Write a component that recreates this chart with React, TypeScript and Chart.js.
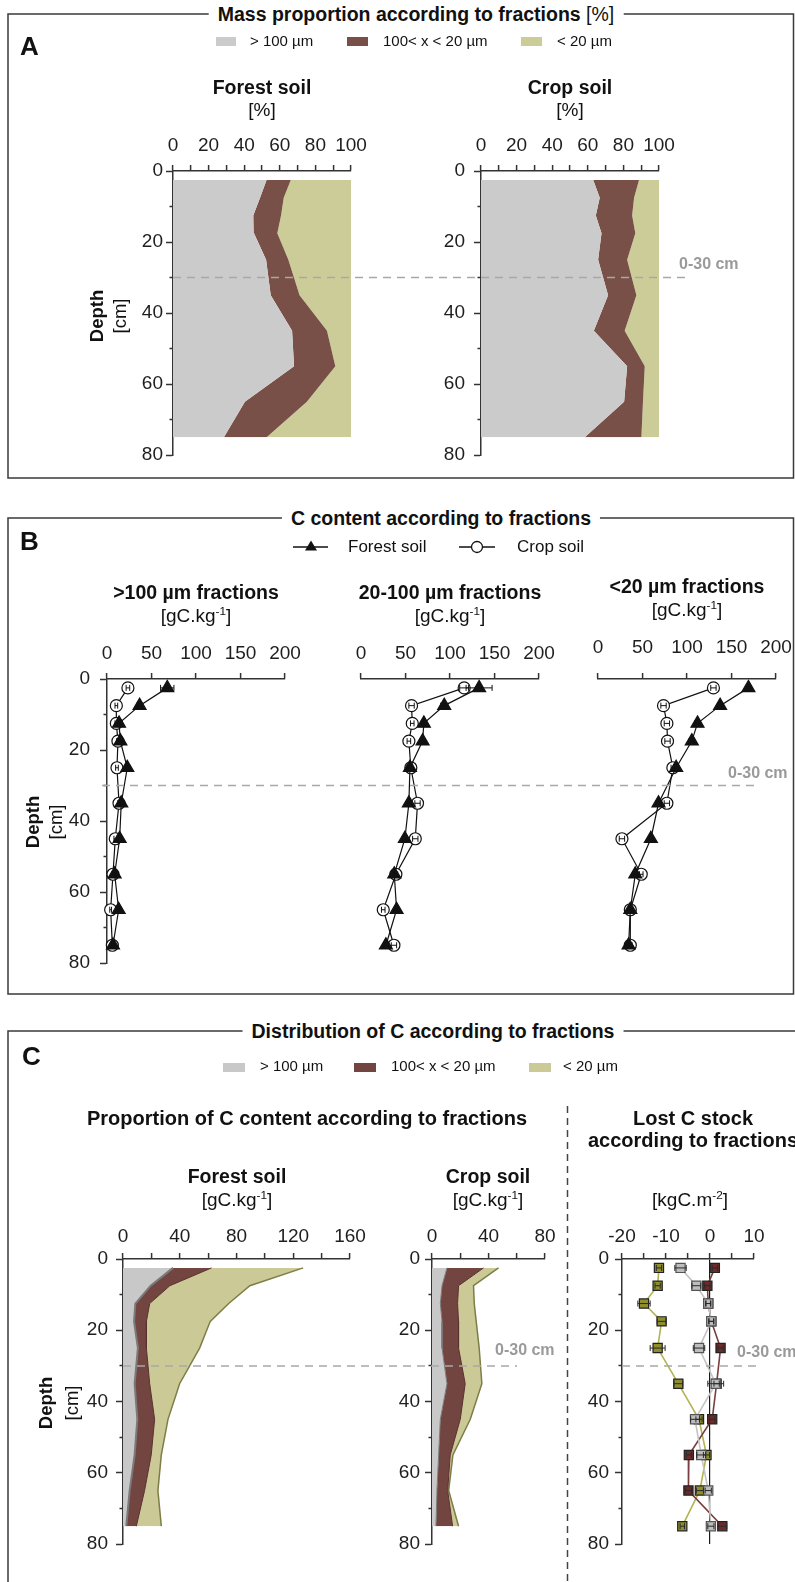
import React, { useEffect, useRef } from 'react';
import { Chart, registerables } from 'chart.js';

Chart.register(...registerables);

const FONT = "'Liberation Sans', Arial, Helvetica, sans-serif";

// ---------------- shared ----------------
const depths = [2.5, 7.5, 12.5, 17.5, 25, 35, 45, 55, 65, 75];
const depthMax = 80;
const refDepth = 30;
const refLabel = '0-30 cm';
const fractionLabels = ['> 100 µm', '100< x < 20 µm', '< 20 µm'];

// ---------------- A : mass proportion [%] ----------------
const massForestCoarse = [52.6, 48.9, 45.1, 45.5, 52.3, 54.9, 66.9, 68.0, 40.4, 28.6];
const massForestMid = [13.6, 13.3, 15.6, 13.1, 12.5, 16.2, 19.6, 23.2, 34.8, 24.0];
const massForestFine = [33.8, 37.8, 39.3, 41.4, 35.2, 28.9, 13.5, 8.8, 24.8, 47.4];
const massCropCoarse = [63.0, 66.7, 64.5, 67.7, 65.8, 71.4, 63.4, 82.1, 80.4, 58.3];
const massCropMid = [25.8, 19.3, 20.4, 19.0, 16.3, 15.9, 17.3, 9.9, 10.6, 31.8];
const massCropFine = [11.2, 14.0, 15.1, 13.3, 17.9, 12.7, 19.3, 8.0, 9.0, 9.9];

// ---------------- B : C content [gC.kg-1] ----------------
const cCoarseForest = [67.7, 36.6, 13.5, 15.0, 22.8, 16.0, 14.2, 8.6, 13.1, 6.7];
const cCoarseForestErr = [7.5, 3, 1.5, 1.5, 2, 1.5, 1.5, 1, 1, 1];
const cCoarseCrop = [23.5, 10.5, 10.5, 12.3, 11.2, 13.5, 9.3, 6.7, 4.1, 6.0];
const cCoarseCropErr = [2, 1.5, 1.5, 1.5, 1.5, 1.5, 1.5, 1, 1, 1];
const cMidForest = [132.7, 93.5, 70.6, 69.2, 55.0, 53.8, 49.3, 37.4, 40.0, 28.0];
const cMidForestErr = [14.6, 4, 3, 3, 3, 2, 2, 2, 2, 2];
const cMidCrop = [115.9, 56.8, 57.6, 53.8, 56.0, 63.5, 61.0, 39.2, 25.0, 37.0];
const cMidCropErr = [5, 3, 2, 2, 2, 3, 3, 2, 2, 3];
const cFineForest = [169.0, 137.2, 111.8, 105.4, 87.8, 68.0, 59.4, 41.9, 36.3, 34.4];
const cFineForestErr = [3, 3, 3, 3, 3, 3, 2, 2, 2, 2];
const cFineCrop = [129.7, 73.6, 77.4, 78.1, 84.1, 77.4, 26.9, 48.6, 36.3, 36.3];
const cFineCropErr = [3, 3, 3, 3, 2, 3, 3, 2, 2, 2];

// ---------------- C : distribution of C ----------------
const distForestCoarse = [35.3, 19.5, 8.7, 7.8, 10.5, 8.2, 10.1, 8.2, 4.7, 2.3];
const distForestMid = [27.1, 13.5, 10.1, 8.7, 6.0, 10.6, 12.2, 11.7, 10.5, 7.1];
const distForestFine = [64.6, 56.4, 55.7, 45.0, 37.5, 21.1, 9.4, 7.1, 9.4, 17.6];
const distCropCoarse = [10.6, 7.1, 5.9, 7.1, 7.1, 10.6, 5.9, 4.7, 3.5, 2.8];
const distCropMid = [25.9, 11.7, 12.2, 11.7, 11.7, 12.9, 14.1, 8.2, 7.6, 11.8];
const distCropFine = [10.6, 10.6, 11.8, 12.5, 14.6, 11.8, 7.1, 1.9, 0.7, 4.2];

// Lost C stock [kgC.m-2]
const lostCoarse = [-6.7, -3.1, -0.4, 0.3, -2.5, 1.3, -3.4, -2.0, -0.4, 0.2];
const lostCoarseErr = [1.3, 1.0, 0.6, 0.6, 1.3, 1.8, 1.0, 1.0, 0.7, 0.7];
const lostMid = [1.1, -0.6, -0.4, 0.3, 2.4, 1.5, 0.5, -4.8, -4.9, 2.8];
const lostMidErr = [0.6, 0.6, 0.5, 0.5, 0.6, 0.6, 0.6, 0.6, 0.7, 1.0];
const lostFine = [-11.6, -11.9, -15.0, -11.0, -11.9, -7.2, -2.5, -0.8, -2.3, -6.3];
const lostFineErr = [0.6, 0.6, 1.4, 1.0, 1.7, 1.0, 0.7, 0.7, 0.8, 0.5];

// ---------------- colours ----------------
const colA = ['#cbcbcb', '#785047', '#cccc99'];
const colC = ['#c8c8c8', '#734541', '#cbca97'];
const edgeC = ['#7a7a7a', '#5a2f2f', '#7d7d46'];
const lostLine = ['#c4c4c4', '#7b3e3e', '#b3b352'];
const lostFill = ['#bdbdbd', '#6a2b2b', '#8e8e2c'];

// ---------------- layout constants ----------------
const WY = 60;
const HX = 60;
const PL = 40;
const PR = 40;
const PB = 30;

type AxisSpec = {
  xMin: number; xMax: number; xStep: number; xLabelStep: number;
  showY: boolean; yPad: number; xPad: number; zeroLine?: boolean; stacked?: boolean;
};

function depthOptions(a: AxisSpec): any {
  const tickFont = { family: FONT, size: 19 };
  return {
    responsive: false,
    animation: false,
    indexAxis: 'y',
    events: [],
    layout: { autoPadding: false, padding: { left: a.showY ? 0 : PL, right: PR, top: 0, bottom: PB } },
    plugins: { legend: { display: false }, tooltip: { enabled: false } },
    scales: {
      x: {
        type: 'linear', position: 'top', min: a.xMin, max: a.xMax, stacked: !!a.stacked,
        afterFit: (s: any) => { s.height = HX; },
        ticks: {
          stepSize: a.xStep, autoSkip: false, maxRotation: 0, padding: a.xPad, color: '#1e1e1e', font: tickFont,
          callback: (v: any) => (Math.abs(Math.round(Number(v))) % a.xLabelStep === 0 ? String(v) : ''),
        },
        grid: {
          drawOnChartArea: !!a.zeroLine,
          color: (c: any) => (a.zeroLine && c.tick && c.tick.value === 0 ? '#1a1a1a' : 'rgba(0,0,0,0)'),
          lineWidth: 1.2, drawTicks: true, tickLength: 6, tickColor: '#333', tickWidth: 1.5,
        },
        border: { display: true, color: '#333', width: 1.5 },
      },
      y: {
        type: 'linear', position: 'left', reverse: true, min: 0, max: depthMax, display: a.showY,
        afterFit: (s: any) => { if (a.showY) s.width = WY; },
        ticks: {
          stepSize: 10, autoSkip: false, padding: a.yPad, color: '#1e1e1e', font: tickFont,
          callback: (v: any) => (Number(v) % 20 === 0 ? String(v) : ''),
        },
        grid: {
          drawOnChartArea: false, drawTicks: true, tickLength: 7, tickColor: '#333', tickWidth: 1.5,
          tickBorderDash: (c: any) => (c.tick && c.tick.value % 20 !== 0 ? [0, 3.5, 4, 60] : []),
        },
        border: { display: true, color: '#333', width: 1.5 },
      },
    },
  };
}

function stackedAreas(parts: number[][], fills: string[], edges: string[], widths: number[]) {
  return parts.map((vals, i) => ({
    data: vals.map((v, j) => ({ x: v, y: depths[j] })),
    fill: i === 0 ? 'origin' : '-1',
    backgroundColor: fills[i],
    borderColor: edges[i],
    borderWidth: widths[i],
    pointRadius: 0,
    tension: 0,
  }));
}

function errorBars(vals: number[], errs: number[], color: string, cap: number) {
  const data: any[] = [];
  vals.forEach((v, i) => {
    data.push({ x: v - errs[i], y: depths[i] }, { x: v + errs[i], y: depths[i] }, { x: null, y: null });
  });
  return {
    data, borderColor: color, borderWidth: 1, pointStyle: 'line', rotation: 90, pointRadius: cap,
    pointBorderColor: color, pointBorderWidth: 1, pointBackgroundColor: color,
    spanGaps: false, fill: false, clip: false,
  };
}

function markerLine(vals: number[], style: string, radius: number, fillColor: string, lineColor: string, edge: string, lineWidth: number) {
  return {
    data: vals.map((v, j) => ({ x: v, y: depths[j] })),
    borderColor: lineColor, borderWidth: lineWidth, pointStyle: style, pointRadius: radius,
    pointBackgroundColor: fillColor, pointBorderColor: edge, pointBorderWidth: 1.2,
    fill: false, tension: 0, clip: false,
  };
}

type ChartProps = { plotLeft: number; plotTop: number; plotW: number; plotH: number; showY: boolean; config: () => any };

function DepthChart({ plotLeft, plotTop, plotW, plotH, showY, config }: ChartProps) {
  const ref = useRef<HTMLCanvasElement | null>(null);
  const leftPad = showY ? WY : PL;
  const w = leftPad + plotW + PR;
  const h = HX + plotH + PB;
  useEffect(() => {
    if (!ref.current) return;
    const chart = new Chart(ref.current, config());
    return () => chart.destroy();
  }, []);
  return (
    <canvas ref={ref} width={w} height={h}
      style={{ position: 'absolute', left: plotLeft - leftPad, top: plotTop - HX, width: w, height: h }} />
  );
}

function Txt({ x, y, size = 19, bold = false, color = '#111', anchor = 'middle', bg, children }: any) {
  return (
    <div style={{
      position: 'absolute', left: x, top: y,
      transform: anchor === 'middle' ? 'translate(-50%, -50%)' : 'translate(0, -50%)',
      fontFamily: FONT, fontSize: size, fontWeight: bold ? 700 : 400, color, whiteSpace: 'nowrap',
      lineHeight: 1.15, background: bg, padding: bg ? '0 9px' : 0,
    }}>{children}</div>
  );
}

function VTxt({ x, y, size = 18.5, bold = false, children }: any) {
  return (
    <div style={{
      position: 'absolute', left: x, top: y, transform: 'translate(-50%, -50%) rotate(-90deg)',
      fontFamily: FONT, fontSize: size, fontWeight: bold ? 700 : 400, color: '#111', whiteSpace: 'nowrap', lineHeight: 1.1,
    }}>{children}</div>
  );
}

const Unit = ({ base, exp }: { base: string; exp: string }) => (
  <span>[{base}<span style={{ fontSize: '0.62em', verticalAlign: '0.55em' }}>{exp}</span>]</span>
);

// plot geometry
const A_TOP = 171, A_H = 284;
const B_TOP = 679, B_H = 284;
const C_TOP = 1259, C_H = 285;
const refY = (top: number, h: number) => top + (refDepth / depthMax) * h;

export default function App() {
  const aOpts = (yPad: number) => depthOptions({ xMin: 0, xMax: 100, xStep: 10, xLabelStep: 20, showY: true, yPad, xPad: 8, stacked: true });
  const bOpts = (showY: boolean, xPad: number) => depthOptions({ xMin: 0, xMax: 200, xStep: 50, xLabelStep: 50, showY, yPad: 10, xPad });

  const dashStyle = { stroke: '#a8a8a8', strokeWidth: 1.5, strokeDasharray: '8 6' };

  return (
    <div style={{ position: 'absolute', left: 0, top: 0, width: 795, height: 1582, background: '#fff', overflow: 'hidden' }}>
      {/* ---------- A ---------- */}
      <DepthChart plotLeft={173} plotTop={A_TOP} plotW={178} plotH={A_H} showY
        config={() => ({ type: 'line', data: { datasets: stackedAreas([massForestCoarse, massForestMid, massForestFine], colA, colA, [0, 0, 0]) }, options: aOpts(3) })} />
      <DepthChart plotLeft={481} plotTop={A_TOP} plotW={178} plotH={A_H} showY
        config={() => ({ type: 'line', data: { datasets: stackedAreas([massCropCoarse, massCropMid, massCropFine], colA, colA, [0, 0, 0]) }, options: aOpts(9) })} />

      {/* ---------- B ---------- */}
      <DepthChart plotLeft={107} plotTop={B_TOP} plotW={178} plotH={B_H} showY
        config={() => ({ type: 'line', data: { datasets: [
          errorBars(cCoarseForest, cCoarseForestErr, '#111', 3),
          errorBars(cCoarseCrop, cCoarseCropErr, '#111', 3),
          markerLine(cCoarseForest, 'triangle', 7.5, '#111', '#111', '#111', 1.2),
          markerLine(cCoarseCrop, 'circle', 6, '#fff', '#111', '#111', 1.2),
        ] }, options: bOpts(true, 8) })} />
      <DepthChart plotLeft={361} plotTop={B_TOP} plotW={178} plotH={B_H} showY={false}
        config={() => ({ type: 'line', data: { datasets: [
          errorBars(cMidForest, cMidForestErr, '#111', 3),
          errorBars(cMidCrop, cMidCropErr, '#111', 3),
          markerLine(cMidForest, 'triangle', 7.5, '#111', '#111', '#111', 1.2),
          markerLine(cMidCrop, 'circle', 6, '#fff', '#111', '#111', 1.2),
        ] }, options: bOpts(false, 8) })} />
      <DepthChart plotLeft={598} plotTop={B_TOP} plotW={178} plotH={B_H} showY={false}
        config={() => ({ type: 'line', data: { datasets: [
          errorBars(cFineForest, cFineForestErr, '#111', 3),
          errorBars(cFineCrop, cFineCropErr, '#111', 3),
          markerLine(cFineForest, 'triangle', 7.5, '#111', '#111', '#111', 1.2),
          markerLine(cFineCrop, 'circle', 6, '#fff', '#111', '#111', 1.2),
        ] }, options: bOpts(false, 14) })} />

      {/* ---------- C ---------- */}
      <DepthChart plotLeft={123} plotTop={C_TOP} plotW={227} plotH={C_H} showY
        config={() => ({ type: 'line', data: { datasets: stackedAreas([distForestCoarse, distForestMid, distForestFine], colC, edgeC, [2, 1, 1.5]) },
          options: depthOptions({ xMin: 0, xMax: 160, xStep: 20, xLabelStep: 40, showY: true, yPad: 8, xPad: 5, stacked: true }) })} />
      <DepthChart plotLeft={432} plotTop={C_TOP} plotW={113} plotH={C_H} showY
        config={() => ({ type: 'line', data: { datasets: stackedAreas([distCropCoarse, distCropMid, distCropFine], colC, edgeC, [1, 1, 1.5]) },
          options: depthOptions({ xMin: 0, xMax: 80, xStep: 20, xLabelStep: 40, showY: true, yPad: 5, xPad: 5, stacked: true }) })} />
      <DepthChart plotLeft={622} plotTop={C_TOP} plotW={132} plotH={C_H} showY
        config={() => ({ type: 'line', data: { datasets: [
          errorBars(lostCoarse, lostCoarseErr, '#2a2a2a', 3),
          errorBars(lostMid, lostMidErr, '#2a2a2a', 3),
          errorBars(lostFine, lostFineErr, '#2a2a2a', 3),
          markerLine(lostCoarse, 'rect', 6.5, lostFill[0], lostLine[0], '#555', 1.6),
          markerLine(lostMid, 'rect', 6.5, lostFill[1], lostLine[1], '#222', 1.6),
          markerLine(lostFine, 'rect', 6.5, lostFill[2], lostLine[2], '#222', 1.6),
        ] }, options: depthOptions({ xMin: -20, xMax: 10, xStep: 5, xLabelStep: 10, showY: true, yPad: 6, xPad: 5, zeroLine: true }) })} />

      {/* ---------- frames, legend swatches, reference lines ---------- */}
      <svg width={795} height={1582} style={{ position: 'absolute', left: 0, top: 0, pointerEvents: 'none' }}>
        <g fill="none" stroke="#3a3a3a" strokeWidth={1.5}>
          <path d="M8 14 H793.5 V478 H8 Z" />
          <path d="M8 518 H793.5 V994 H8 Z" />
          <path d="M8 1582 V1031 H795" />
        </g>
        {/* legend A */}
        <rect x={216} y={37} width={20} height={9} fill={colA[0]} />
        <rect x={347} y={37} width={21} height={9} fill={colA[1]} />
        <rect x={521} y={37} width={21} height={9} fill={colA[2]} />
        {/* legend B */}
        <line x1={293} y1={547} x2={328} y2={547} stroke="#111" strokeWidth={1.3} />
        <polygon points="311,540.5 317,550.5 305,550.5" fill="#111" />
        <line x1={459} y1={547} x2={495} y2={547} stroke="#111" strokeWidth={1.3} />
        <circle cx={477} cy={547} r={5.5} fill="#fff" stroke="#111" strokeWidth={1.3} />
        {/* legend C */}
        <rect x={223} y={1063} width={22} height={9} fill={colC[0]} />
        <rect x={354} y={1063} width={22} height={9} fill={colC[1]} />
        <rect x={529} y={1063} width={22} height={9} fill={colC[2]} />
        {/* reference depth lines */}
        <line x1={173} y1={refY(A_TOP, A_H)} x2={690} y2={refY(A_TOP, A_H)} {...dashStyle} />
        <line x1={102} y1={refY(B_TOP, B_H)} x2={757} y2={refY(B_TOP, B_H)} {...dashStyle} />
        <line x1={123} y1={refY(C_TOP, C_H)} x2={517} y2={refY(C_TOP, C_H)} {...dashStyle} />
        <line x1={622} y1={refY(C_TOP, C_H)} x2={758} y2={refY(C_TOP, C_H)} {...dashStyle} />
        {/* separator in C */}
        <line x1={567.5} y1={1106} x2={567.5} y2={1582} stroke="#444" strokeWidth={1.5} strokeDasharray="7 5" />
      </svg>

      {/* ---------- texts A ---------- */}
      <Txt x={416} y={14} size={19.5} bold bg="#fff">Mass proportion according to fractions <span style={{ fontWeight: 400 }}>[%]</span></Txt>
      <Txt x={20} y={47} size={26} bold anchor="start">A</Txt>
      <Txt x={250} y={41} size={15} anchor="start">{fractionLabels[0]}</Txt>
      <Txt x={383} y={41} size={15} anchor="start">{fractionLabels[1]}</Txt>
      <Txt x={557} y={41} size={15} anchor="start">{fractionLabels[2]}</Txt>
      <Txt x={262} y={87} size={19.5} bold>Forest soil</Txt>
      <Txt x={262} y={110}>[%]</Txt>
      <Txt x={570} y={87} size={19.5} bold>Crop soil</Txt>
      <Txt x={570} y={110}>[%]</Txt>
      <VTxt x={97} y={316} bold>Depth</VTxt>
      <VTxt x={120} y={316}>[cm]</VTxt>
      <Txt x={679} y={264} size={16} bold color="#9a9a9a" anchor="start">{refLabel}</Txt>

      {/* ---------- texts B ---------- */}
      <Txt x={441} y={518} size={19.5} bold bg="#fff">C content according to fractions</Txt>
      <Txt x={20} y={542} size={26} bold anchor="start">B</Txt>
      <Txt x={348} y={547} size={17} anchor="start">Forest soil</Txt>
      <Txt x={517} y={547} size={17} anchor="start">Crop soil</Txt>
      <Txt x={196} y={592} size={19.5} bold>&gt;100 µm fractions</Txt>
      <Txt x={196} y={616}><Unit base="gC.kg" exp="-1" /></Txt>
      <Txt x={450} y={592} size={19.5} bold>20-100 µm fractions</Txt>
      <Txt x={450} y={616}><Unit base="gC.kg" exp="-1" /></Txt>
      <Txt x={687} y={586} size={19.5} bold>&lt;20 µm fractions</Txt>
      <Txt x={687} y={610}><Unit base="gC.kg" exp="-1" /></Txt>
      <VTxt x={33} y={822} bold>Depth</VTxt>
      <VTxt x={56} y={822}>[cm]</VTxt>
      <Txt x={728} y={773} size={16} bold color="#9a9a9a" anchor="start">{refLabel}</Txt>

      {/* ---------- texts C ---------- */}
      <Txt x={433} y={1031} size={19.5} bold bg="#fff">Distribution of C according to fractions</Txt>
      <Txt x={22} y={1057} size={26} bold anchor="start">C</Txt>
      <Txt x={260} y={1066} size={15} anchor="start">{fractionLabels[0]}</Txt>
      <Txt x={391} y={1066} size={15} anchor="start">{fractionLabels[1]}</Txt>
      <Txt x={563} y={1066} size={15} anchor="start">{fractionLabels[2]}</Txt>
      <Txt x={307} y={1118} size={20} bold>Proportion of C content according to fractions</Txt>
      <Txt x={693} y={1118} size={20} bold>Lost C stock</Txt>
      <Txt x={693} y={1140} size={20} bold>according to fractions</Txt>
      <Txt x={237} y={1176} size={19.5} bold>Forest soil</Txt>
      <Txt x={237} y={1200}><Unit base="gC.kg" exp="-1" /></Txt>
      <Txt x={488} y={1176} size={19.5} bold>Crop soil</Txt>
      <Txt x={488} y={1200}><Unit base="gC.kg" exp="-1" /></Txt>
      <Txt x={690} y={1200}><Unit base="kgC.m" exp="-2" /></Txt>
      <VTxt x={46} y={1403} bold>Depth</VTxt>
      <VTxt x={72} y={1403}>[cm]</VTxt>
      <Txt x={495} y={1350} size={16} bold color="#9a9a9a" anchor="start">{refLabel}</Txt>
      <Txt x={737} y={1352} size={16} bold color="#9a9a9a" anchor="start">{refLabel}</Txt>
    </div>
  );
}
